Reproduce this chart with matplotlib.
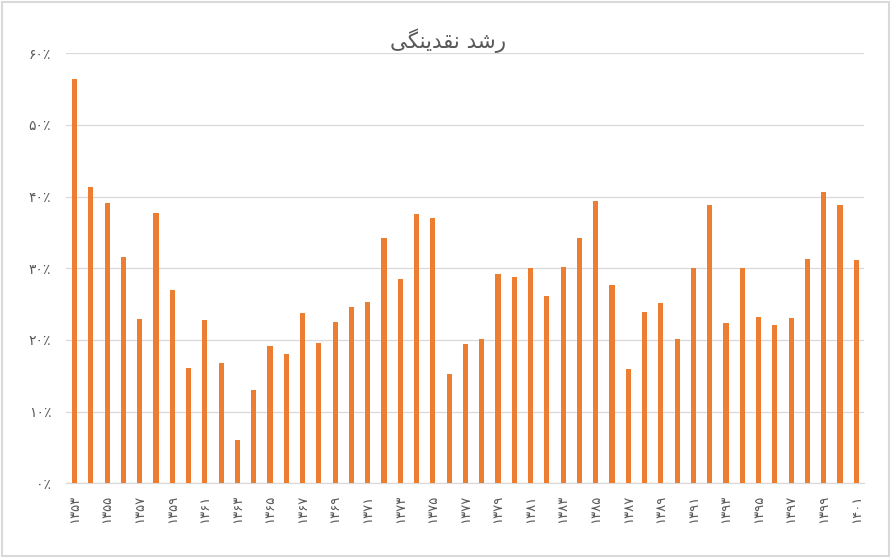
import matplotlib
matplotlib.use("Agg")
import matplotlib.pyplot as plt
from matplotlib.patches import Rectangle

years = list(range(1353, 1402))
growth = [56.4, 41.3, 39.1, 31.6, 22.9, 37.7, 27.0, 16.1, 22.8, 16.8,
          6.0, 13.0, 19.2, 18.1, 23.7, 19.6, 22.5, 24.6, 25.3, 34.2,
          28.5, 37.6, 37.0, 15.3, 19.4, 20.1, 29.2, 28.8, 30.0, 26.1,
          30.2, 34.2, 39.4, 27.7, 16.0, 23.9, 25.2, 20.1, 30.0, 38.8,
          22.4, 30.0, 23.2, 22.1, 23.1, 31.3, 40.6, 38.9, 31.2]
y_ticks = [0, 10, 20, 30, 40, 50, 60]
# "رشد نقدینگی" in presentation forms, visual order
title = "\uFBFD\uFB95\uFEE8\uFBFE\uFEAA\uFED8\uFEE7 \uFEAA\uFEB7\uFEAD"

fa = str.maketrans("0123456789", "۰۱۲۳۴۵۶۷۸۹")
def fa_num(s):
    return str(s).translate(fa)

plt.rcParams['font.family'] = ['DejaVu Sans']
grey = '#595959'

fig = plt.figure(figsize=(8.93, 5.58), dpi=100)
ax = fig.add_axes([0.0744, 0.1339, 0.8936, 0.7706])

x = list(range(len(years)))
ax.bar(x, growth, width=0.31, color='#ED7D31', zorder=3)
ax.set_xlim(-0.5, len(years) - 0.5)
ax.set_ylim(0, 60)
ax.set_yticks(y_ticks)
ax.set_yticklabels([fa_num(v) + '\u066A' for v in y_ticks], color=grey, fontsize=10)
ax.set_xticks(x[::2])
ax.set_xticklabels([fa_num(y) for y in years[::2]], rotation=90, color=grey, fontsize=9.5)
ax.tick_params(axis='both', length=0)
ax.tick_params(axis='y', pad=11)
ax.tick_params(axis='x', pad=8)
ax.grid(axis='y', color='#d9d9d9', linewidth=0.9, zorder=0)
for s in ['top', 'right', 'left']:
    ax.spines[s].set_visible(False)
ax.spines['bottom'].set_color('#d9d9d9')
ax.spines['bottom'].set_linewidth(0.9)

fig.text(0.502, 0.927, title, ha='center', va='center', fontsize=15.5, color=grey)
fig.patches.append(Rectangle((0.002, 0.004), 0.994, 0.992, transform=fig.transFigure,
                             fill=False, edgecolor='#d9d9d9', linewidth=1.5))

fig.savefig('out.png', dpi=100)
